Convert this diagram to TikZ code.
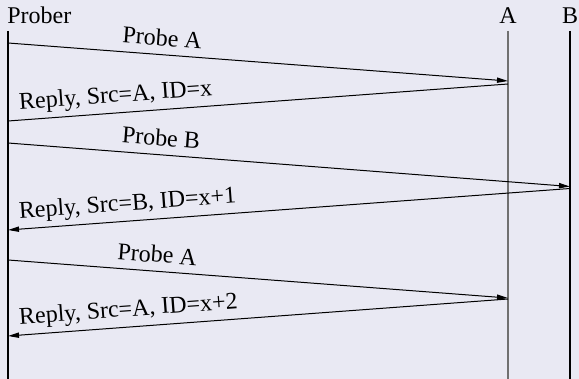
\documentclass[tikz,border=0pt]{standalone}
\usepackage{fontspec}
\setmainfont{Liberation Serif}
\usetikzlibrary{arrows.meta}
\definecolor{bgc}{RGB}{233,233,243}
\definecolor{lineA}{RGB}{112,112,112}
\begin{document}
\begin{tikzpicture}[x=0.5pt,y=-0.5pt, font=\fontsize{12}{14}\selectfont,
  life/.style={line width=0.55pt},
  plainmsg/.style={line width=0.5pt},
  msg/.style={line width=0.5pt,-{Triangle[length=5.5pt,width=2.6pt]}},
  rmsg/.style={line width=0.5pt,{Triangle[length=5.5pt,width=2.6pt]}-},
  lbl/.style={sloped, inner sep=0pt, anchor=base, yshift=4.4pt},
  rlbl/.style={sloped, inner sep=0pt, anchor=base west, yshift=5.3pt},
  head/.style={inner sep=0pt, anchor=base}]
\fill[bgc] (0,0) rectangle (579,379);
\useasboundingbox (0,0) rectangle (579,379);
% headers
\node[head, anchor=base west] (prober) at (7,24) {Prober};
\node[head] (hA) at (508,24) {A};
\node[head] (hB) at (570,24) {B};
% lifelines
\coordinate (pTop) at (8,31);   \coordinate (pBot) at (8,379);
\coordinate (aTop) at (508,31); \coordinate (aBot) at (508,379);
\coordinate (bTop) at (570,31); \coordinate (bBot) at (570,379);
\draw[life] (pTop) -- (pBot);
\draw[life, lineA] (aTop) -- (aBot);
\draw[life] (bTop) -- (bBot);
% message end points
\coordinate (p1) at (8,43);    \coordinate (a1) at (508,81);
\coordinate (a2) at (508,84);  \coordinate (p2) at (8,121);
\coordinate (p3) at (8,143);   \coordinate (b3) at (570,186.5);
\coordinate (b4) at (570,188.5); \coordinate (p4) at (8,230);
\coordinate (p5) at (8,260);   \coordinate (a5) at (508,298);
\coordinate (a6) at (508,299); \coordinate (p6) at (8,336);
% messages
\draw[msg] (p1) -- node[lbl, pos=0.306] (l1) {Probe A} (a1);
\draw[plainmsg] (p2) -- node[rlbl, pos=0.024] (l2) {Reply, Src=A, ID=x} (a2);
\draw[msg] (p3) -- node[lbl, pos=0.27] (l3) {Probe B} (b3);
\draw[rmsg] (p4) -- node[rlbl, pos=0.021] (l4) {Reply, Src=B, ID=x+1} (b4);
\draw[msg] (p5) -- node[lbl, pos=0.296] (l5) {Probe A} (a5);
\draw[rmsg] (p6) -- node[rlbl, pos=0.024] (l6) {Reply, Src=A, ID=x+2} (a6);
\end{tikzpicture}
\end{document}
